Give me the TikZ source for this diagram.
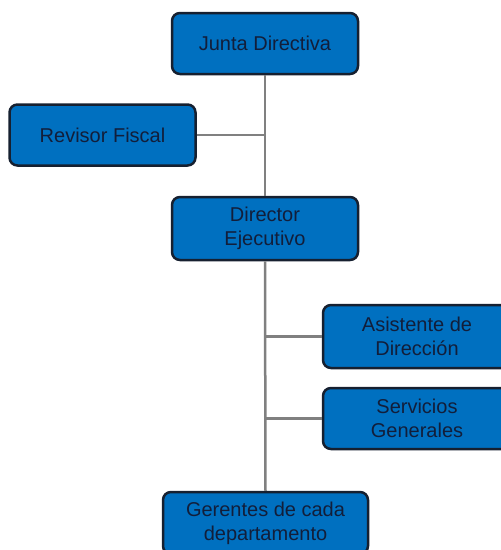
\documentclass[tikz,border=0pt]{standalone}
\usepackage{fontspec}
\setmainfont{Liberation Sans}
\usetikzlibrary{positioning}
\definecolor{orgBlue}{RGB}{0,112,192}
\definecolor{orgEdge}{RGB}{22,32,48}
\definecolor{orgText}{RGB}{18,30,58}
\definecolor{orgLine}{RGB}{128,128,128}
\tikzset{
  orgbox/.style={rounded corners=8pt,draw=orgEdge,fill=orgBlue,line width=2.5pt,text=orgText,
    align=center,inner sep=0pt,minimum width=186pt,minimum height=61pt,
    font=\fontsize{20}{24}\selectfont},
  orgline/.style={draw=orgLine,line width=2.5pt}
}
\begin{document}
\begin{tikzpicture}[x=1pt,y=-1pt]
\useasboundingbox (0,0) rectangle (501,550);
\clip (0,0) rectangle (501,550);
% cargos
\node[orgbox] (jd) at (265,43.5) {Junta Directiva};
\node[orgbox] (rf) at (102.5,135) {Revisor Fiscal};
\node[orgbox,minimum height=63pt] (de) at (265,228.5) {Director\\Ejecutivo};
\node[orgbox,minimum width=188pt,minimum height=63pt] (ad) at (417,336.5) {Asistente de\\Dirección};
\node[orgbox,minimum width=188pt] (sg) at (417,418.5) {Servicios\\Generales};
\node[orgbox,minimum width=205pt,minimum height=62pt] (gd) at (265.5,523) {Gerentes de cada\\departamento};
% lineas
\draw[orgline] (jd.south) -- (de.north);
\draw[orgline] (de.south) -- (gd.north);
\draw[orgline] (rf.east) -- (rf.east -| jd.south);
\draw[orgline] (ad.west) -- (ad.west -| de.south);
\draw[orgline] (sg.west) -- (sg.west -| de.south);
\end{tikzpicture}
\end{document}
